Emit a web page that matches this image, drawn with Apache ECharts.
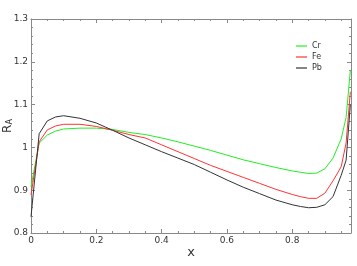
<!DOCTYPE html>
<html>
<head>
<meta charset="utf-8">
<script src="https://cdn.jsdelivr.net/npm/echarts@6/dist/echarts.min.js"></script>
<style>html,body{margin:0;padding:0;background:#fff}#c{width:357px;height:266px}</style>
</head>
<body>
<div id="c"></div>
<script>
var xs = [0, 0.025, 0.05, 0.075, 0.1, 0.15, 0.2, 0.25, 0.3, 0.35, 0.4, 0.45, 0.5, 0.55, 0.6, 0.65, 0.7, 0.75, 0.8, 0.825, 0.85, 0.875, 0.9, 0.925, 0.95, 0.965, 0.978];
var cr = [0.908, 1.010, 1.029, 1.038, 1.043, 1.045, 1.045, 1.042, 1.035, 1.030, 1.022, 1.013, 1.003, 0.993, 0.982, 0.971, 0.962, 0.953, 0.945, 0.942, 0.939, 0.940, 0.950, 0.975, 1.020, 1.070, 1.180];
var fe = [0.889, 1.013, 1.041, 1.050, 1.054, 1.054, 1.049, 1.040, 1.030, 1.022, 1.006, 0.990, 0.974, 0.958, 0.944, 0.930, 0.916, 0.902, 0.890, 0.885, 0.881, 0.881, 0.893, 0.922, 0.955, 1.010, 1.130];
var pb = [0.838, 1.032, 1.062, 1.071, 1.074, 1.068, 1.057, 1.040, 1.022, 1.006, 0.990, 0.975, 0.960, 0.942, 0.924, 0.907, 0.892, 0.877, 0.866, 0.862, 0.859, 0.860, 0.866, 0.885, 0.935, 0.970, 1.100];
var seriesNames = ['Cr', 'Fe', 'Pb'];
var seriesColors = ['#22ee22', '#ff3333', '#333333'];
var xTicks = ['0', '0.2', '0.4', '0.6', '0.8'];
var yTicks = ['0.8', '0.9', '1', '1.1', '1.2', '1.3'];

function pairs(ys){ return xs.map(function(x,i){ return [x, ys[i]]; }); }
var font = 'DejaVu Sans';
var axisColor = '#888';
function xa(pos, labels){
  return {
    type:'value', position: pos, min:0, max:0.98, interval:0.2,
    axisLine:{show:true, onZero:false, lineStyle:{color:axisColor, width:1}},
    axisTick:{show:true, inside:true, length:4, lineStyle:{color:axisColor}},
    minorTick:{show:true, splitNumber:4, length:2, lineStyle:{color:axisColor}},
    splitLine:{show:false},
    axisLabel:{show:labels, fontSize:9, color:'#333', fontFamily:font, margin:3,
      formatter:function(v){ var s = String(Math.round(v*10)/10); return xTicks.indexOf(s)>=0 && Math.abs(v*5-Math.round(v*5))<1e-6 ? s : ''; }},
    name: labels ? 'x' : '', nameLocation:'middle', nameGap:13, nameMoveOverlap:false,
    nameTextStyle:{fontSize:13, color:'#333', fontFamily:font}
  };
}
function ya(pos, labels){
  return {
    type:'value', position: pos, min:0.8, max:1.3, interval:0.1,
    axisLine:{show:true, onZero:false, lineStyle:{color:axisColor, width:1}},
    axisTick:{show:true, inside:true, length:4, lineStyle:{color:axisColor}},
    minorTick:{show:true, splitNumber:5, length:2, lineStyle:{color:axisColor}},
    splitLine:{show:false},
    axisLabel:{show:labels, fontSize:9, color:'#333', fontFamily:font, margin:3,
      formatter:function(v){ var s = String(Math.round(v*10)/10); return yTicks.indexOf(s)>=0 ? s : ''; }},
    name: labels ? 'R{a|A}' : '', nameLocation:'middle', nameGap:17, nameRotate:90, nameMoveOverlap:false,
    nameTextStyle:{fontSize:12, color:'#333', fontFamily:font,
      rich:{a:{fontSize:8, color:'#333', fontFamily:font, padding:[5,0,0,0]}}}
  };
}
var chart = echarts.init(document.getElementById('c'), null, {renderer:'canvas'});
var data = [cr, fe, pb];
chart.setOption({
  animation:false,
  backgroundColor:'#fff',
  grid:{left:31, right:6, top:19, bottom:33, containLabel:false, outerBoundsMode:'none'},
  xAxis:[xa('bottom', true), xa('top', false)],
  yAxis:[ya('left', true), ya('right', false)],
  legend:{
    orient:'vertical', left:296, top:42, itemWidth:11, itemHeight:1.2, itemGap:3,
    icon:'rect', textStyle:{fontSize:8, color:'#333', fontFamily:font}, padding:0,
    data: seriesNames
  },
  series: seriesNames.map(function(n,i){
    return {name:n, type:'line', xAxisIndex:0, yAxisIndex:0, data:pairs(data[i]),
      showSymbol:false, symbol:'none', smooth:false,
      lineStyle:{color:seriesColors[i], width:1}, itemStyle:{color:seriesColors[i]}};
  })
});
</script>
</body>
</html>
